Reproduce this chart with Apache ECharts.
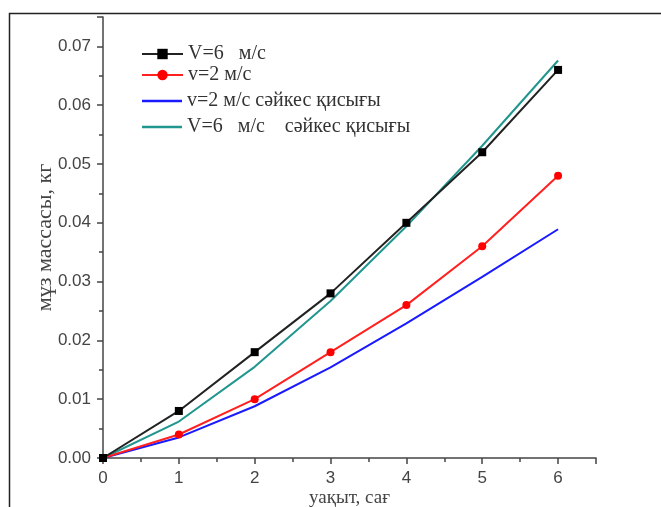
<!DOCTYPE html>
<html>
<head>
<meta charset="utf-8">
<script src="https://cdn.jsdelivr.net/npm/echarts@6/dist/echarts.min.js"></script>
<style>html,body{margin:0;padding:0;background:#fff}#c{width:661px;height:507px}</style>
</head>
<body>
<div id="c"></div>
<script>
const hours = [0, 1, 2, 3, 4, 5, 6];
const v6Measured = [0, 0.008, 0.018, 0.028, 0.040, 0.052, 0.066];
const v2Measured = [0, 0.004, 0.010, 0.018, 0.026, 0.036, 0.048];
const v2Fit = [0, 0.0035, 0.0088, 0.0154, 0.0229, 0.0308, 0.0389];
const v6Fit = [0, 0.0062, 0.0155, 0.0267, 0.0394, 0.0531, 0.0676];
const seriesNames = ['V=6   м/с', 'v=2 м/с', 'v=2 м/с сәйкес қисығы', 'V=6   м/с    сәйкес қисығы'];
const xAxisName = 'уақыт, сағ';
const yAxisName = 'мұз массасы, кг';

const pair = (xs, ys) => xs.map((x, i) => [x, ys[i]]);
const chart = echarts.init(document.getElementById('c'));
const serif = '"Liberation Serif", "DejaVu Serif", serif';
const sans = '"Liberation Sans", Arial, sans-serif';
const legendText = {fontFamily: serif, fontSize: 20, color: '#333'};
function legMarker(name, top) {
  return {data: [name], left: 141, top: top, itemWidth: 41, itemHeight: 13,
          textStyle: legendText, selectedMode: false, padding: 0};
}
function legLine(name, top, color) {
  return {data: [{name: name, icon: 'rect', itemStyle: {color: color}}], left: 142, top: top,
          itemWidth: 40, itemHeight: 2.5, textStyle: legendText, selectedMode: false, padding: 0};
}
chart.setOption({
  animation: false,
  backgroundColor: '#fff',
  grid: {left: 103, right: 65, top: 17, bottom: 49, outerBoundsMode: 'none', containLabel: false},
  legend: [
    legMarker(seriesNames[0], 44),
    legMarker(seriesNames[1], 65),
    legLine(seriesNames[2], 91, '#1a1aff'),
    legLine(seriesNames[3], 117, '#20968f')
  ],
  xAxis: {
    type: 'value', min: 0, max: 6.5, interval: 1,
    name: xAxisName, nameLocation: 'middle', nameGap: 31, nameMoveOverlap: false,
    nameTextStyle: {fontFamily: serif, fontSize: 19, color: '#444'},
    axisLine: {lineStyle: {color: '#444', width: 1.5}},
    axisTick: {length: 6, lineStyle: {color: '#444', width: 1.5}},
    minorTick: {show: true, splitNumber: 2, length: 4, lineStyle: {color: '#444', width: 1.5}},
    axisLabel: {showMaxLabel: false, fontFamily: sans, fontSize: 17, color: '#444', margin: 12},
    splitLine: {show: false}
  },
  yAxis: {
    type: 'value', min: 0, max: 0.075, interval: 0.01,
    name: yAxisName, nameLocation: 'middle', nameGap: 47, nameRotate: 90, nameMoveOverlap: false,
    nameTextStyle: {fontFamily: serif, fontSize: 22, color: '#444'},
    axisLine: {show: true, lineStyle: {color: '#444', width: 1.5}},
    axisTick: {show: true, length: 6, lineStyle: {color: '#444', width: 1.5}},
    minorTick: {show: true, splitNumber: 2, length: 4, lineStyle: {color: '#444', width: 1.5}},
    axisLabel: {showMaxLabel: false, formatter: v => v.toFixed(2), fontFamily: sans, fontSize: 17, color: '#444', margin: 12},
    splitLine: {show: false}
  },
  series: [
    {name: seriesNames[0], type: 'line', data: pair(hours, v6Measured), symbol: 'rect', symbolSize: 8,
     itemStyle: {color: '#000'}, lineStyle: {color: '#222', width: 2}, z: 4},
    {name: seriesNames[1], type: 'line', data: pair(hours, v2Measured), symbol: 'circle', symbolSize: 8,
     itemStyle: {color: '#ff0000'}, lineStyle: {color: '#ff2020', width: 2}, z: 3},
    {name: seriesNames[2], type: 'line', data: pair(hours, v2Fit), showSymbol: false, symbol: 'none',
     itemStyle: {color: '#1a1aff'}, lineStyle: {color: '#1a1aff', width: 2}, z: 2},
    {name: seriesNames[3], type: 'line', data: pair(hours, v6Fit), showSymbol: false, symbol: 'none',
     itemStyle: {color: '#20968f'}, lineStyle: {color: '#20968f', width: 2}, z: 2}
  ],
  graphic: [
    {type: 'polyline', shape: {points: [[9.5, 507], [9.5, 13.5], [661, 13.5]]}, style: {stroke: '#222', lineWidth: 1.5, fill: null}, silent: true}
  ]
});
</script>
</body>
</html>
